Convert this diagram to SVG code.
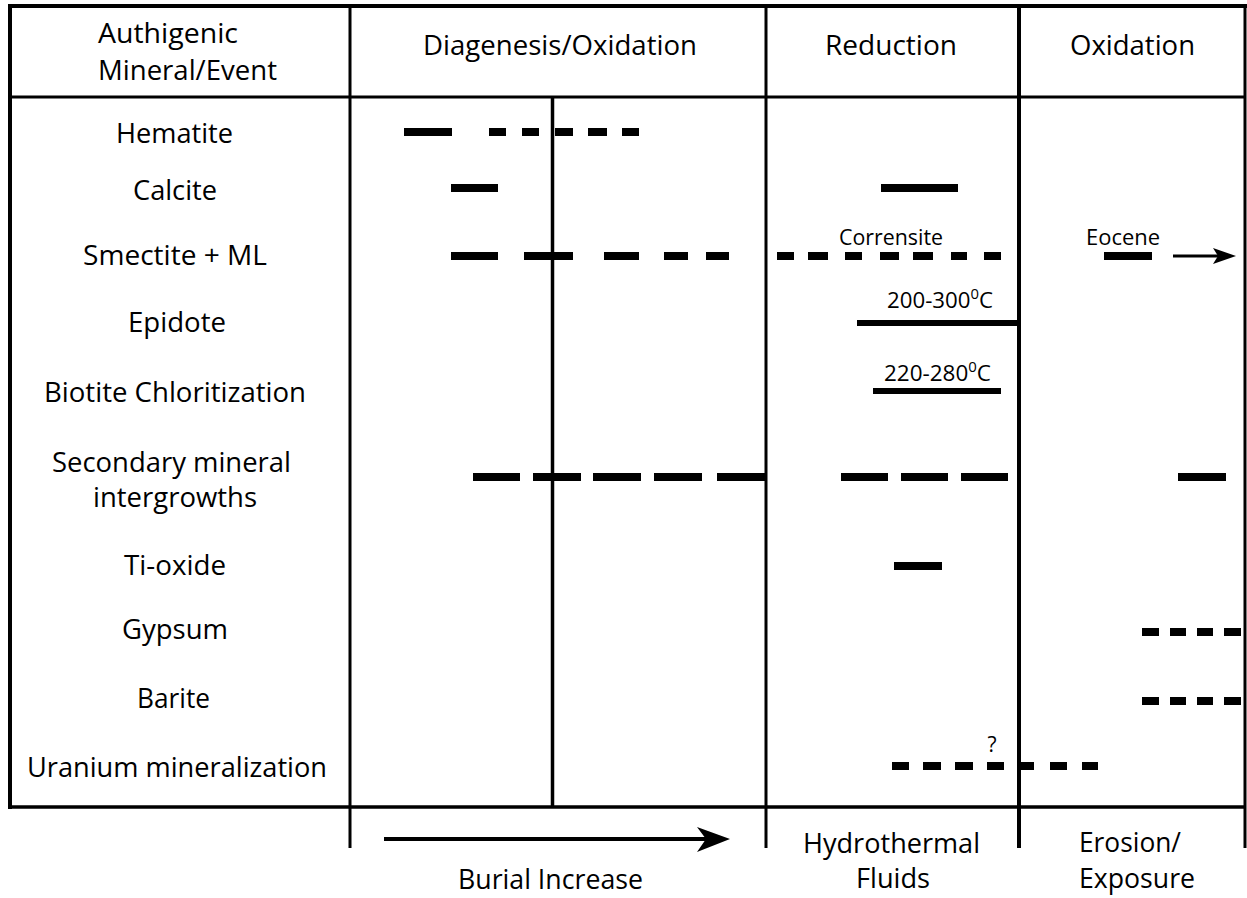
<svg xmlns="http://www.w3.org/2000/svg" width="1247" height="898" viewBox="0 0 1247 898">
<style>
.t{font-family:"Open Sans","Noto Sans","DejaVu Sans",sans-serif;font-size:27px;fill:#000}
.s{font-family:"Open Sans","Noto Sans","DejaVu Sans",sans-serif;font-size:21px;fill:#000}
.c{text-anchor:middle}
.g{stroke:#000;fill:none;stroke-linecap:butt}
.bar{stroke:#000;fill:none;stroke-width:8;stroke-linecap:butt}
.thin{stroke:#000;fill:none;stroke-width:6;stroke-linecap:butt}
</style>
<rect x="0" y="0" width="1247" height="898" fill="#fff"/>
<g id="grid">
<line class="g" x1="8" y1="6" x2="1247" y2="6" stroke-width="4"/>
<line class="g" x1="10" y1="4" x2="10" y2="809" stroke-width="4"/>
<line class="g" x1="10" y1="97" x2="1245" y2="97" stroke-width="3"/>
<line class="g" x1="10" y1="807" x2="1245" y2="807" stroke-width="3.5"/>
<line class="g" x1="350" y1="6" x2="350" y2="848" stroke-width="3"/>
<line class="g" x1="766" y1="6" x2="766" y2="848" stroke-width="3"/>
<line class="g" x1="1019" y1="6" x2="1019" y2="848" stroke-width="4"/>
<line class="g" x1="1245" y1="6" x2="1245" y2="848" stroke-width="3"/>
<line class="g" x1="552.5" y1="97" x2="552.5" y2="807" stroke-width="3.5"/>
</g>
<g id="header">
<text class="t" x="98" y="43" textLength="140" lengthAdjust="spacingAndGlyphs">Authigenic</text>
<text class="t" x="98" y="80" textLength="179" lengthAdjust="spacingAndGlyphs">Mineral/Event</text>
<text class="t" x="423" y="55" textLength="274" lengthAdjust="spacingAndGlyphs">Diagenesis/Oxidation</text>
<text class="t" x="825" y="55" textLength="132" lengthAdjust="spacingAndGlyphs">Reduction</text>
<text class="t" x="1070" y="55" textLength="125" lengthAdjust="spacingAndGlyphs">Oxidation</text>
</g>
<g id="row-hematite">
<text class="t" x="116" y="143" textLength="117" lengthAdjust="spacingAndGlyphs">Hematite</text>
<path class="bar" d="M404,132H452M489,132H506M522,132H539M555,132H573M588,132H607M622,132H639"/>
</g>
<g id="row-calcite">
<text class="t" x="133" y="200" textLength="84" lengthAdjust="spacingAndGlyphs">Calcite</text>
<path class="bar" stroke-width="7" d="M451,188H498M881,188H958"/>
</g>
<g id="row-smectite">
<text class="t" x="83" y="265" textLength="184" lengthAdjust="spacingAndGlyphs">Smectite + ML</text>
<path class="bar" d="M451,256H498M524,256H573M604,256H639M664,256H688M706,256H729M777,256H794M808,256H828M845,256H862M880,256H899M913,256H933M951,256H967M984,256H1001M1104,256H1152"/>
<text class="s" x="839" y="245" textLength="104" lengthAdjust="spacingAndGlyphs">Corrensite</text>
<text class="s" x="1086" y="245" textLength="74" lengthAdjust="spacingAndGlyphs">Eocene</text>
<line class="g" x1="1173" y1="256" x2="1220" y2="256" stroke-width="3"/>
<path d="M1236,256L1213,248L1218,256L1213,264Z" fill="#000"/>
</g>
<g id="row-epidote">
<text class="t" x="128" y="332" textLength="98" lengthAdjust="spacingAndGlyphs">Epidote</text>
<text class="s" x="887" y="308" textLength="106" lengthAdjust="spacingAndGlyphs">200-300<tspan font-size="14" dy="-9">0</tspan><tspan dy="9">C</tspan></text>
<path class="thin" d="M857,323H1019"/>
</g>
<g id="row-biotite">
<text class="t" x="44" y="402" textLength="262" lengthAdjust="spacingAndGlyphs">Biotite Chloritization</text>
<text class="s" x="884" y="381" textLength="107" lengthAdjust="spacingAndGlyphs">220-280<tspan font-size="14" dy="-9">0</tspan><tspan dy="9">C</tspan></text>
<path class="thin" stroke-width="7" d="M873,391H1001"/>
</g>
<g id="row-secondary">
<text class="t" x="52" y="472" textLength="239" lengthAdjust="spacingAndGlyphs">Secondary mineral</text>
<text class="t" x="93" y="507" textLength="164" lengthAdjust="spacingAndGlyphs">intergrowths</text>
<path class="bar" d="M473,477H520M533,477H581M593,477H641M654,477H702M717,477H766M841,477H888M901,477H948M961,477H1008M1178,477H1226"/>
</g>
<g id="row-tioxide">
<text class="t" x="124" y="575" textLength="102" lengthAdjust="spacingAndGlyphs">Ti-oxide</text>
<path class="bar" stroke-width="7" d="M894,566H942"/>
</g>
<g id="row-gypsum">
<text class="t" x="122" y="639" textLength="106" lengthAdjust="spacingAndGlyphs">Gypsum</text>
<path class="bar" stroke-width="7" d="M1142,632H1159M1170,632H1186M1197,632H1213M1224,632H1241"/>
</g>
<g id="row-barite">
<text class="t" x="137" y="708" textLength="73" lengthAdjust="spacingAndGlyphs">Barite</text>
<path class="bar" stroke-width="7" d="M1142,701H1159M1170,701H1186M1197,701H1213M1224,701H1241"/>
</g>
<g id="row-uranium">
<text class="t" x="27" y="777" textLength="300" lengthAdjust="spacingAndGlyphs">Uranium mineralization</text>
<text class="s" x="992" y="752" text-anchor="middle" font-size="18">?</text>
<path class="bar" stroke-width="7.5" d="M892,766H909M923,766H941M955,766H973M987,766H1004M1018,766H1034M1050,766H1067M1082,766H1098"/>
</g>
<g id="footer">
<line class="g" x1="384" y1="839" x2="708" y2="839" stroke-width="4"/>
<path d="M730,839L697,827L706,839L697,852Z" fill="#000"/>
<text class="t" x="458" y="889" textLength="185" lengthAdjust="spacingAndGlyphs">Burial Increase</text>
<text class="t" x="803" y="853" textLength="177" lengthAdjust="spacingAndGlyphs">Hydrothermal</text>
<text class="t" x="856" y="888" textLength="74" lengthAdjust="spacingAndGlyphs">Fluids</text>
<text class="t" x="1079" y="852" textLength="102" lengthAdjust="spacingAndGlyphs">Erosion/</text>
<text class="t" x="1079" y="888" textLength="116" lengthAdjust="spacingAndGlyphs">Exposure</text>
</g>
</svg>
